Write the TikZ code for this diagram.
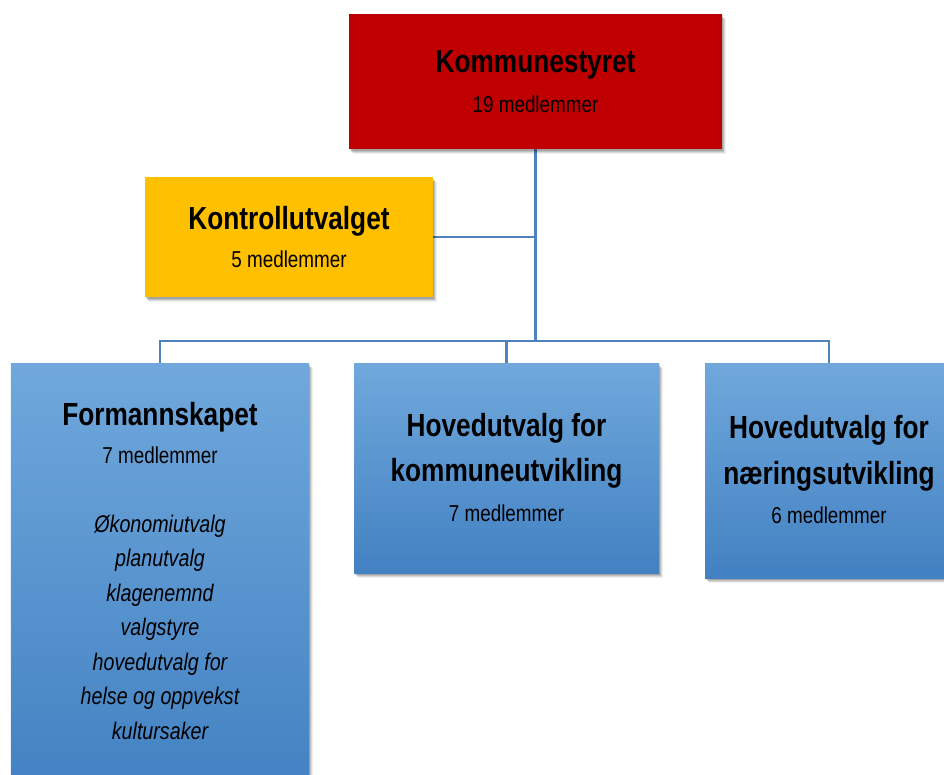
\documentclass[tikz,border=0pt]{standalone}
\usepackage{fontspec}
\setmainfont{Liberation Sans}[FakeStretch=0.82]
\usetikzlibrary{shadows,backgrounds}
\definecolor{ksred}{RGB}{192,0,0}
\definecolor{kgold}{RGB}{255,192,0}
\definecolor{linkblue}{RGB}{79,129,189}
\definecolor{btop}{RGB}{112,168,220}
\definecolor{bmid}{RGB}{84,151,218}
\definecolor{bbot}{RGB}{66,129,194}
\tikzset{
  boxshadow/.style={
    drop shadow={shadow xshift=4bp, shadow yshift=-5bp, opacity=0.06, fill=black},
    drop shadow={shadow xshift=3bp, shadow yshift=-4bp, opacity=0.09, fill=black},
    drop shadow={shadow xshift=2bp, shadow yshift=-3bp, opacity=0.12, fill=black},
    drop shadow={shadow xshift=1bp, shadow yshift=-1.5bp, opacity=0.15, fill=black}},
  redbox/.style={rectangle, fill=ksred, inner sep=0, boxshadow},
  goldbox/.style={rectangle, fill=kgold, inner sep=0, boxshadow},
  bluebox/.style={rectangle, top color=btop, middle color=bmid, bottom color=bbot, inner sep=0, boxshadow},
  titletext/.style={anchor=base, inner sep=0, font=\fontsize{32bp}{38bp}\selectfont\bfseries},
  subtext/.style={anchor=base, inner sep=0, font=\fontsize{23bp}{28bp}\selectfont},
  ittext/.style={anchor=base, inner sep=0, font=\fontsize{24bp}{29bp}\selectfont\itshape},
  link/.style={draw=linkblue, line width=2.5bp}
}
\begin{document}
\begin{tikzpicture}[x=1bp, y=-1bp]
\useasboundingbox (0,0) rectangle (944,775);
% boxes
\node[redbox, minimum width=373bp, minimum height=135bp] (ks) at (535.5,81.5) {};
\node[goldbox, minimum width=288bp, minimum height=120bp] (ko) at (289,237) {};
\node[bluebox, minimum width=298bp, minimum height=430bp] (fo) at (160,578) {};
\node[bluebox, minimum width=305bp, minimum height=210bp] (hk) at (506.5,468) {};
\node[bluebox, minimum width=248bp, minimum height=215bp] (hn) at (829,470.5) {};
% connectors behind boxes
\begin{pgfonlayer}{background}
\coordinate (j1) at (ks.south |- 0,341);
\coordinate (j0) at (ks.south |- ko.east);
\draw[link] (ks.south) -- (j1);
\draw[link] (ko.east) -- (j0);
\draw[link] (j1) -| (fo.north);
\draw[link] (j1) -| (hk.north);
\draw[link] (j1) -| (hn.north);
\end{pgfonlayer}
% texts
\node[titletext] (kst) at (535.5,73) {Kommunestyret};
\node[subtext] (ksm) at (535.5,112) {19 medlemmer};
\node[titletext] (kot) at (289,229) {Kontrollutvalget};
\node[subtext] (kom) at (289,267) {5 medlemmer};
\node[titletext] (fot) at (160,425) {Formannskapet};
\node[subtext] (fom) at (160,463) {7 medlemmer};
\node[ittext] (f1) at (160,532) {Økonomiutvalg};
\node[ittext] (f2) at (160,566.5) {planutvalg};
\node[ittext] (f3) at (160,601) {klagenemnd};
\node[ittext] (f4) at (160,635.5) {valgstyre};
\node[ittext] (f5) at (160,670) {hovedutvalg for};
\node[ittext] (f6) at (160,704.5) {helse og oppvekst};
\node[ittext] (f7) at (160,739) {kultursaker};
\node[titletext] (hk1) at (506.5,436) {Hovedutvalg for};
\node[titletext] (hk2) at (506.5,481) {kommuneutvikling};
\node[subtext] (hkm) at (506.5,521) {7 medlemmer};
\node[titletext] (hn1) at (829,438) {Hovedutvalg for};
\node[titletext] (hn2) at (829,484) {næringsutvikling};
\node[subtext] (hnm) at (829,523) {6 medlemmer};
\end{tikzpicture}
\end{document}
